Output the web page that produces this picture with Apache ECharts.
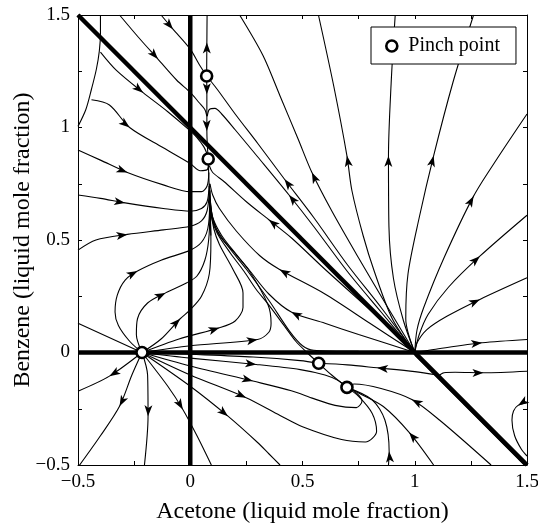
<!DOCTYPE html>
<html>
<head>
<meta charset="utf-8">
<script src="https://cdn.jsdelivr.net/npm/echarts@6/dist/echarts.min.js"></script>
<style>
  html, body { margin: 0; padding: 0; background: #fff; }
  #chart { width: 538px; height: 525px; }
</style>
</head>
<body>
<div id="chart"></div>
<script>
// Residue-curve style map: acetone (x) vs benzene (y), liquid mole fractions.

// Axis ticks (every 0.25, labelled every 0.5)
const xRange = [-0.5, 1.5];
const yRange = [-0.5, 1.5];
const tickStep = 0.25;
const labelStep = 0.5;

// Pinch points
const pinchX = [0.073, 0.08, -0.215, 0.572, 0.698];
const pinchY = [1.229, 0.86, 0.0, -0.048, -0.155];

// Heavy boundary lines (one component equal to zero)
const acetoneZero = [[0, -0.5], [0, 1.5]];
const benzeneZero = [[-0.5, 0], [1.5, 0]];
const thirdZero = [[-0.5, 1.5], [1.5, -0.5]];
const thirdZeroEdge = [[1.0, -0.012], [1.5, -0.512]];

// Streamlines, each listed in the direction of flow
const farLeftCurve = [[-0.40, 1.50], [-0.40, 1.42], [-0.405, 1.34], [-0.418, 1.26], [-0.44, 1.17], [-0.465, 1.08], [-0.50, 1.005]];
const topLeftA = [[-0.40, 1.335], [-0.33, 1.255], [-0.21, 1.155], [-0.10, 1.07], [0.0, 0.985], [0.03, 0.955], [0.06, 0.915], [0.078, 0.875]];
const topLeftB = [[-0.44, 1.123], [-0.36, 1.10], [-0.27, 1.0], [-0.12, 0.91], [0.0, 0.84], [0.045, 0.808], [0.075, 0.812], [0.082, 0.845]];
const leftD = [[-0.50, 0.90], [-0.40, 0.855], [-0.28, 0.80], [-0.12, 0.745], [0.0, 0.715], [0.05, 0.715], [0.075, 0.74], [0.083, 0.80]];
const leftE = [[-0.50, 0.70], [-0.40, 0.685], [-0.29, 0.665], [-0.12, 0.64], [0.0, 0.628], [0.05, 0.64], [0.075, 0.67], [0.084, 0.74]];
const leftF = [[-0.50, 0.455], [-0.42, 0.50], [-0.28, 0.525], [-0.12, 0.545], [0.0, 0.561], [0.05, 0.585], [0.075, 0.63], [0.085, 0.72]];
const nodeG = [[-0.215, 0], [-0.27, 0.05], [-0.32, 0.12], [-0.335, 0.18], [-0.325, 0.255], [-0.29, 0.322], [-0.235, 0.362], [-0.13, 0.41], [0.0, 0.455], [0.05, 0.49], [0.078, 0.55], [0.086, 0.65], [0.085, 0.72]];
const nodeH = [[-0.215, 0], [-0.24, 0.08], [-0.235, 0.15], [-0.19, 0.22], [-0.11, 0.265], [-0.015, 0.31], [0.03, 0.34], [0.065, 0.41], [0.082, 0.5], [0.087, 0.62], [0.086, 0.70]];
const nodeI = [[-0.215, 0], [-0.13, 0.06], [-0.045, 0.15], [0.0, 0.19], [0.05, 0.25], [0.085, 0.35], [0.092, 0.5], [0.09, 0.6], [0.088, 0.68]];
const nodeJ = [[-0.215, 0], [-0.05, 0.06], [0.13, 0.11], [0.2, 0.14], [0.235, 0.2], [0.235, 0.265], [0.19, 0.37], [0.13, 0.48], [0.105, 0.55], [0.09, 0.64], [0.087, 0.72]];
const nodeK = [[-0.215, 0], [0.0, 0.03], [0.3, 0.058], [0.35, 0.09], [0.36, 0.13], [0.346, 0.213], [0.264, 0.361], [0.2, 0.44], [0.13, 0.52], [0.1, 0.6], [0.089, 0.68], [0.086, 0.75]];
const stem = [[0.092, 0.52], [0.088, 0.62], [0.085, 0.72], [0.082, 0.80], [0.08, 0.86]];
const upperQ1 = [[1, 0], [0.8, 0.19], [0.6, 0.37], [0.45, 0.51], [0.35, 0.59], [0.25, 0.67], [0.15, 0.76], [0.1, 0.80], [0.085, 0.83]];
const upperQ2 = [[1, 0], [0.8, 0.13], [0.6, 0.26], [0.398, 0.369], [0.31, 0.43], [0.205, 0.54], [0.13, 0.64], [0.1, 0.7], [0.088, 0.75]];
const upperQ3 = [[1, 0], [0.75, 0.08], [0.6, 0.13], [0.45, 0.18], [0.35, 0.26], [0.26, 0.37], [0.205, 0.436], [0.14, 0.52], [0.1, 0.6], [0.089, 0.68]];
const saddleUp = [[0.572, -0.048], [0.52, 0.0], [0.47, 0.05], [0.42, 0.117], [0.347, 0.215], [0.294, 0.28], [0.24, 0.36], [0.18, 0.44], [0.12, 0.53], [0.095, 0.6], [0.088, 0.68]];
const upperQ5 = [[1, 0.003], [0.75, 0.005], [0.55, 0.01], [0.5, 0.03], [0.442, 0.095], [0.353, 0.228], [0.25, 0.37], [0.17, 0.47], [0.11, 0.56], [0.092, 0.64], [0.087, 0.72]];
const fanA = [[1, 0], [0.85, 0.2], [0.7, 0.39], [0.55, 0.6], [0.42, 0.77], [0.3, 0.93], [0.2, 1.06], [0.12, 1.17], [0.073, 1.229]];
const fanM = [[1, 0], [0.85, 0.18], [0.7, 0.36], [0.55, 0.56], [0.44, 0.70], [0.3, 0.87], [0.2, 0.99], [0.14, 1.06], [0.11, 1.085], [0.085, 1.08], [0.076, 1.05]];
const fanC = [[1, 0], [0.88, 0.2], [0.75, 0.42], [0.63, 0.63], [0.542, 0.80], [0.48, 0.95], [0.40, 1.14], [0.324, 1.32], [0.22, 1.5]];
const fanD = [[1, 0], [0.9, 0.15], [0.82, 0.36], [0.77, 0.52], [0.72, 0.72], [0.698, 0.874], [0.64, 1.18], [0.571, 1.5]];
const fanE = [[1, 0], [0.95, 0.14], [0.905, 0.33], [0.885, 0.56], [0.883, 0.874], [0.895, 1.2], [0.913, 1.5]];
const fanF = [[1, 0], [0.96, 0.15], [0.97, 0.35], [1.02, 0.6], [1.084, 0.874], [1.17, 1.2], [1.262, 1.5]];
const fanG = [[1, 0], [1.01, 0.1], [1.04, 0.2], [1.13, 0.42], [1.262, 0.695], [1.366, 0.86], [1.5, 1.06]];
const fanH = [[1, 0], [1.02, 0.08], [1.06, 0.17], [1.15, 0.29], [1.29, 0.428], [1.5, 0.61]];
const fanT2 = [[1, 0], [1.01, 0.043], [1.054, 0.102], [1.143, 0.161], [1.29, 0.236], [1.5, 0.332]];
const fanT1 = [[1, 0], [1.084, 0.013], [1.30, 0.043], [1.5, 0.058]];
const topO = [[-0.315, 1.5], [-0.23, 1.40], [-0.144, 1.304], [-0.06, 1.21], [0.0, 1.156], [0.04, 1.11], [0.065, 1.08], [0.074, 1.05]];
const topOt = [[-0.13, 1.5], [-0.077, 1.437], [0.0, 1.348], [0.04, 1.28], [0.073, 1.229]];
const saddleTop = [[0.073, 1.229], [0.074, 1.378], [0.075, 1.5]];
const saddleDown = [[0.073, 1.229], [0.074, 1.148], [0.074, 0.985], [0.08, 0.86]];
const lowerR1 = [[1.1, -0.1], [1.0, -0.085], [0.832, -0.068], [0.7, -0.055], [0.572, -0.048]];
const lowerR2 = [[1.105, -0.105], [1.13, -0.09], [1.18, -0.088], [1.306, -0.09], [1.5, -0.083]];
const lowerR3 = [[-0.215, 0], [0.0, -0.008], [0.28, -0.02], [0.49, -0.036], [0.572, -0.048]];
const lowerS0 = [[-0.215, 0], [0.0, -0.025], [0.294, -0.053], [0.49, -0.076], [0.6, -0.1], [0.66, -0.125], [0.698, -0.155]];
const lowerS1 = [[-0.215, 0], [0.0, -0.06], [0.279, -0.127], [0.45, -0.17], [0.55, -0.205], [0.645, -0.235], [0.74, -0.245], [0.765, -0.215], [0.74, -0.18], [0.698, -0.155]];
const lowerS2 = [[-0.215, 0], [0.0, -0.1], [0.249, -0.201], [0.4, -0.28], [0.5, -0.33], [0.674, -0.387], [0.78, -0.398], [0.83, -0.35], [0.81, -0.27], [0.75, -0.195], [0.698, -0.155]];
const lowerB1 = [[-0.215, 0], [0.0, -0.15], [0.168, -0.283], [0.3, -0.4], [0.35, -0.45], [0.40, -0.5]];
const lowerB2 = [[-0.215, 0], [-0.1, -0.15], [-0.033, -0.253], [0.03, -0.37], [0.094, -0.5]];
const lowerDown = [[-0.215, 0], [-0.19, -0.1], [-0.188, -0.283], [-0.204, -0.5]];
const lowerDL = [[-0.215, 0], [-0.26, -0.1], [-0.315, -0.239], [-0.4, -0.37], [-0.5, -0.51]];
const lowerLeft = [[-0.215, 0], [-0.36, -0.105], [-0.5, -0.172]];
const upperLeft = [[-0.215, 0], [-0.5, 0.13]];
const sinkS3 = [[0.883, -0.5], [0.886, -0.44], [0.867, -0.3], [0.81, -0.21], [0.698, -0.155]];
const sinkS4 = [[1.084, -0.5], [0.975, -0.355], [0.86, -0.24], [0.75, -0.18], [0.698, -0.155]];
const sinkS5 = [[1.34, -0.5], [1.11, -0.3], [0.987, -0.209], [0.85, -0.16], [0.73, -0.14], [0.698, -0.155]];
const saddleSink = [[0.572, -0.048], [0.63, -0.1], [0.698, -0.155]];
const rightHook = [[1.5, -0.222], [1.46, -0.235], [1.44, -0.26], [1.433, -0.30], [1.445, -0.37], [1.475, -0.43], [1.5, -0.46]];

// Which point of each streamline carries an arrowhead
const streamlines = [
  { pts: farLeftCurve, arrows: [] },
  { pts: topLeftA, arrows: [2] },
  { pts: topLeftB, arrows: [2] },
  { pts: leftD, arrows: [2] },
  { pts: leftE, arrows: [2] },
  { pts: leftF, arrows: [2] },
  { pts: nodeG, arrows: [6] },
  { pts: nodeH, arrows: [4] },
  { pts: nodeI, arrows: [2] },
  { pts: nodeJ, arrows: [2] },
  { pts: nodeK, arrows: [2] },
  { pts: stem, arrows: [] },
  { pts: upperQ1, arrows: [4] },
  { pts: upperQ2, arrows: [3] },
  { pts: upperQ3, arrows: [3] },
  { pts: saddleUp, arrows: [] },
  { pts: upperQ5, arrows: [] },
  { pts: fanA, arrows: [4] },
  { pts: fanM, arrows: [4] },
  { pts: fanC, arrows: [4] },
  { pts: fanD, arrows: [5] },
  { pts: fanE, arrows: [4] },
  { pts: fanF, arrows: [4] },
  { pts: fanG, arrows: [4] },
  { pts: fanH, arrows: [4] },
  { pts: fanT2, arrows: [4] },
  { pts: fanT1, arrows: [2] },
  { pts: topO, arrows: [2] },
  { pts: topOt, arrows: [1] },
  { pts: saddleTop, arrows: [1] },
  { pts: saddleDown, arrows: [1, 2] },
  { pts: lowerR1, arrows: [2] },
  { pts: lowerR2, arrows: [3] },
  { pts: lowerR3, arrows: [] },
  { pts: lowerS0, arrows: [2] },
  { pts: lowerS1, arrows: [2] },
  { pts: lowerS2, arrows: [2] },
  { pts: lowerB1, arrows: [2] },
  { pts: lowerB2, arrows: [2] },
  { pts: lowerDown, arrows: [2] },
  { pts: lowerDL, arrows: [2] },
  { pts: lowerLeft, arrows: [1] },
  { pts: upperLeft, arrows: [] },
  { pts: sinkS3, arrows: [1] },
  { pts: sinkS4, arrows: [1] },
  { pts: sinkS5, arrows: [2] },
  { pts: saddleSink, arrows: [] },
  { pts: rightHook, arrows: [1] }
];

const serif = '"Liberation Serif", "Times New Roman", serif';
const grid = { left: 78, top: 15, width: 449, height: 450, containLabel: false, outerBoundsMode: 'none' };
const pxPerX = grid.width / (xRange[1] - xRange[0]);
const pxPerY = grid.height / (yRange[1] - yRange[0]);

function tickText(v) {
  const k = v / labelStep;
  if (Math.abs(k - Math.round(k)) > 1e-9) return '';
  const r = Math.round(v * 100) / 100;
  return r < 0 ? '\u2212' + String(-r) : String(r);
}

// Rotation (degrees, counter-clockwise) that points the arrow symbol along the flow
function arrowAngle(p, i) {
  const a = p[Math.max(0, i - 1)];
  const b = p[Math.min(p.length - 1, i + 1)];
  const dx = (b[0] - a[0]) * pxPerX;
  const dy = (b[1] - a[1]) * pxPerY;
  return Math.atan2(-dx, dy) * 180 / Math.PI;
}

function axisCommon(showLabels) {
  return {
    type: 'value',
    interval: tickStep,
    nameMoveOverlap: false,
    axisLine: { show: true, onZero: false, lineStyle: { color: '#000', width: 1 } },
    axisTick: { show: true, inside: true, length: 4, lineStyle: { color: '#000', width: 1 } },
    splitLine: { show: false },
    axisLabel: {
      show: showLabels,
      formatter: tickText,
      color: '#000',
      fontFamily: serif,
      fontSize: 19,
      margin: 8
    }
  };
}

const series = [];
streamlines.forEach(s => {
  series.push({
    type: 'line',
    data: s.pts,
    smooth: 0.3,
    symbol: 'none',
    showSymbol: false,
    silent: true,
    lineStyle: { color: '#000', width: 1.1 },
    z: 2
  });
});

const arrowData = [];
streamlines.forEach(s => {
  s.arrows.forEach(i => {
    arrowData.push({ value: s.pts[i], symbolRotate: arrowAngle(s.pts, i) });
  });
});
series.push({
  type: 'scatter',
  data: arrowData,
  symbol: 'arrow',
  symbolSize: [6, 11],
  silent: true,
  itemStyle: { color: '#000', opacity: 1 },
  z: 5
});

[acetoneZero, benzeneZero, thirdZero].forEach(line => {
  series.push({
    type: 'line',
    data: line,
    symbol: 'none',
    silent: true,
    lineStyle: { color: '#000', width: 4.5, cap: 'butt' },
    z: 4
  });
});
series.push({
  type: 'line',
  data: thirdZeroEdge,
  symbol: 'none',
  silent: true,
  lineStyle: { color: '#000', width: 1.2 },
  z: 4
});

series.push({
  name: 'Pinch point',
  type: 'scatter',
  data: pinchX.map((x, i) => [x, pinchY[i]]),
  symbol: 'circle',
  symbolSize: 11,
  silent: true,
  itemStyle: { color: '#fff', borderColor: '#000', borderWidth: 2.6, opacity: 1 },
  z: 10
});

const chart = echarts.init(document.getElementById('chart'), null, { renderer: 'canvas' });
chart.setOption({
  animation: false,
  backgroundColor: '#fff',
  grid: grid,
  legend: {
    data: [{ name: 'Pinch point', icon: 'circle', itemStyle: { color: '#fff', borderColor: '#000', borderWidth: 2.6, opacity: 1 } }],
    left: 371,
    top: 27,
    padding: [9, 16, 8, 14],
    backgroundColor: '#fff',
    borderColor: '#000',
    borderWidth: 1,
    borderRadius: 0,
    itemWidth: 11,
    itemHeight: 11,
    selectedMode: false,
    textStyle: { fontFamily: serif, fontSize: 20, color: '#000', padding: [0, 0, 0, 6] }
  },
  xAxis: [
    Object.assign(axisCommon(true), {
      min: xRange[0], max: xRange[1], position: 'bottom',
      name: 'Acetone (liquid mole fraction)', nameLocation: 'middle', nameGap: 35,
      nameTextStyle: { fontFamily: serif, fontSize: 24, color: '#000' }
    }),
    Object.assign(axisCommon(false), { min: xRange[0], max: xRange[1], position: 'top' })
  ],
  yAxis: [
    Object.assign(axisCommon(true), {
      min: yRange[0], max: yRange[1], position: 'left',
      name: 'Benzene (liquid mole fraction)', nameLocation: 'middle', nameGap: 43,
      nameTextStyle: { fontFamily: serif, fontSize: 24, color: '#000' }
    }),
    Object.assign(axisCommon(false), { min: yRange[0], max: yRange[1], position: 'right' })
  ],
  series: series
});
</script>
</body>
</html>
